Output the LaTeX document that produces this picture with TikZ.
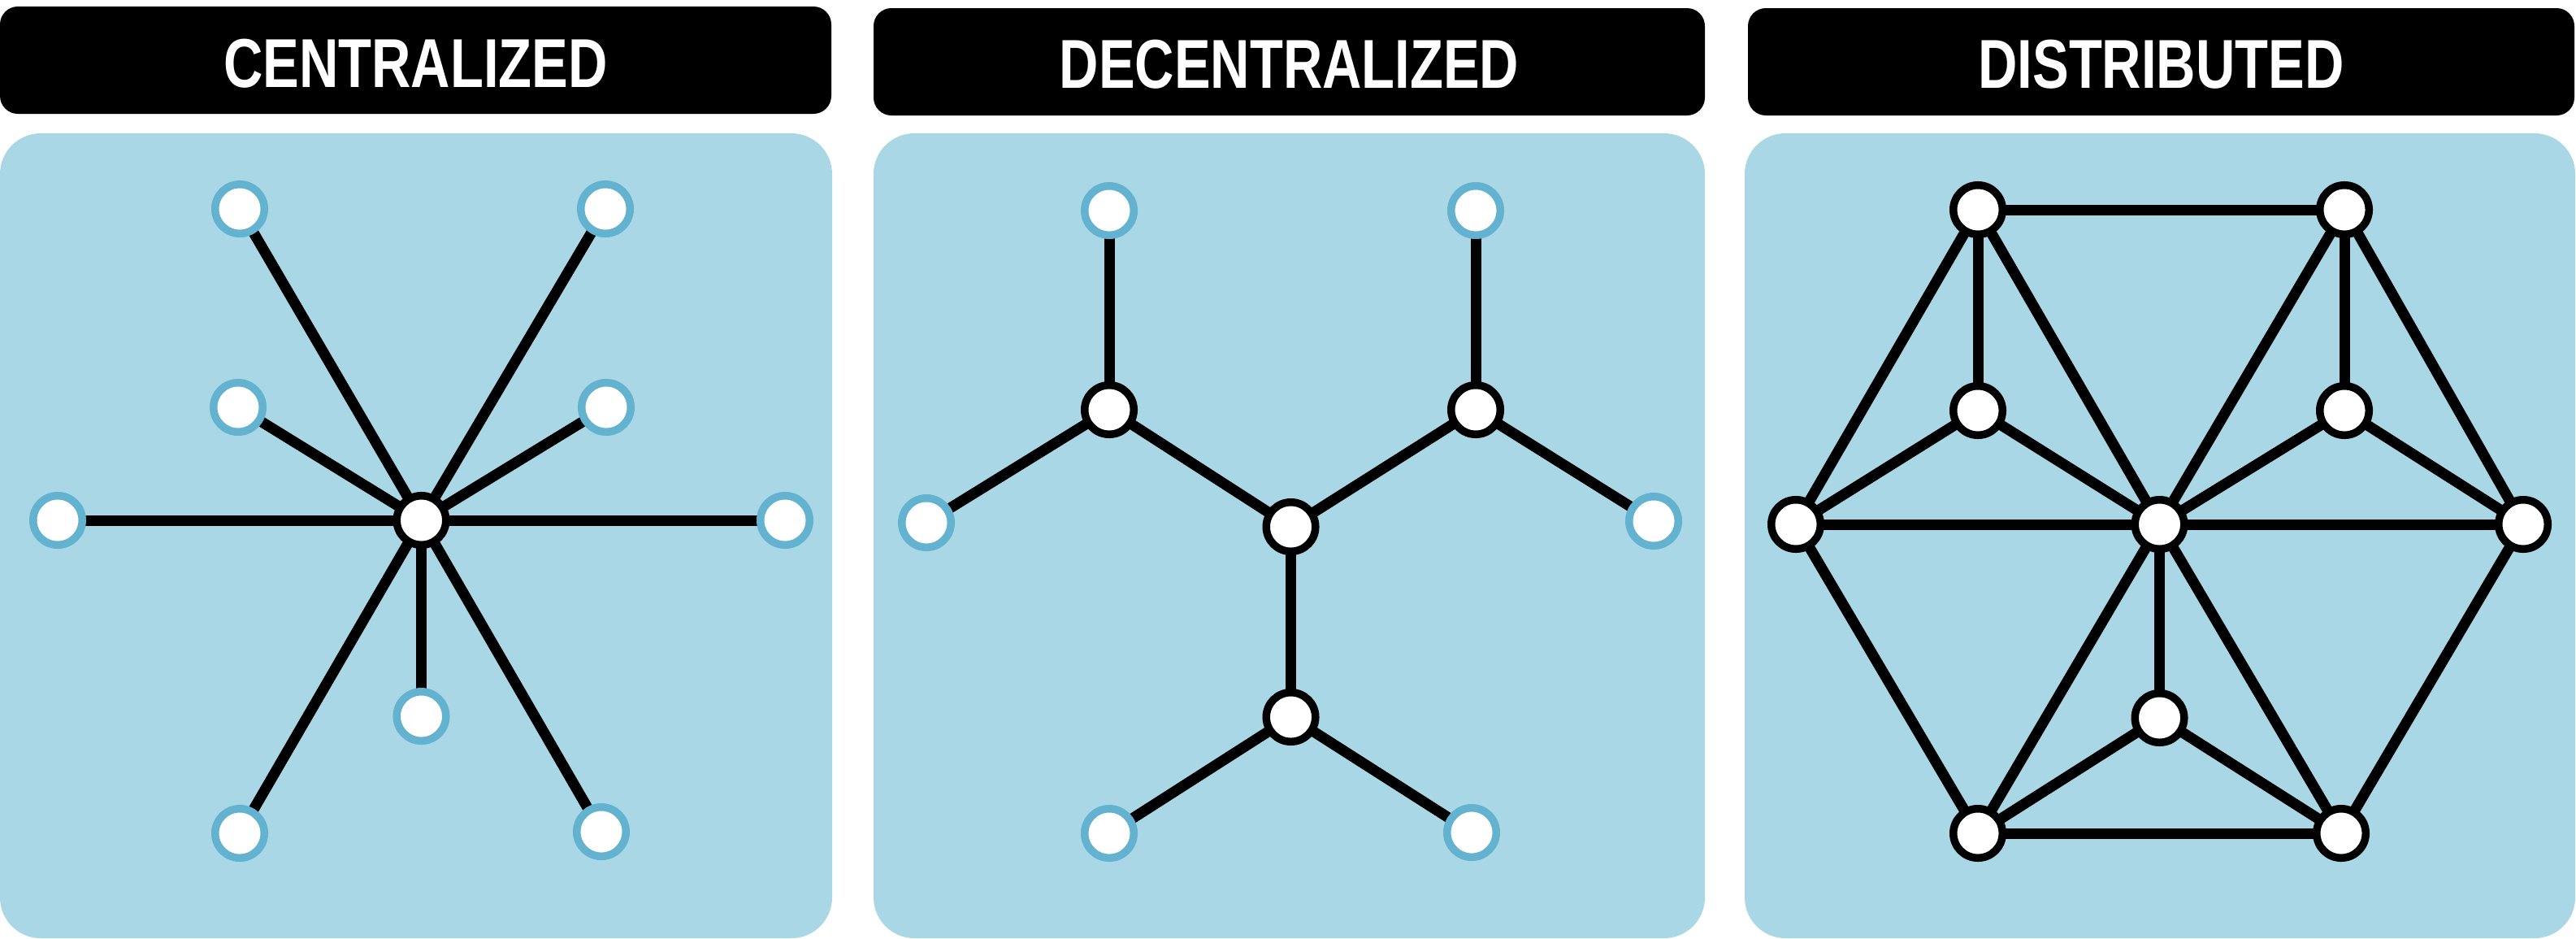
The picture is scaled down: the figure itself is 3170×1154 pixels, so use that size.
\documentclass[tikz,border=0pt]{standalone}
\usepackage{fontspec}
\usepackage{graphicx}
\newfontfamily\hdrfont{Liberation Sans}
\definecolor{panelblue}{HTML}{AAD7E5}
\definecolor{ringblue}{HTML}{62B2D0}
\pgfdeclarelayer{bglayer}
\pgfdeclarelayer{edgelayer}
\pgfsetlayers{bglayer,edgelayer,main}
\tikzset{
  leaf/.style={circle, draw=ringblue, fill=white, line width=0.095cm, minimum size=0.605cm, inner sep=0pt},
  hub/.style={leaf, draw=black},
  link/.style={line width=0.13cm, draw=black},
  hdrbox/.style={fill=black, rounded corners=0.22cm},
  panel/.style={fill=panelblue, rounded corners=0.5cm},
  hdrtext/.style={text=white, anchor=base, inner sep=0pt, font=\hdrfont\bfseries\fontsize{24.2pt}{29pt}\selectfont}
}
\begin{document}
\begin{tikzpicture}[x=0.01cm,y=-0.01cm]
\useasboundingbox (0,0) rectangle (3170,1154);
% headers and panels
\begin{pgfonlayer}{bglayer}
\fill[hdrbox] (0,8) rectangle (1023,140);
\fill[hdrbox] (1075,10) rectangle (2098,142);
\fill[hdrbox] (2151,10) rectangle (3168,142);
\fill[panel] (0,164) rectangle (1024,1154);
\fill[panel] (1075,164) rectangle (2098,1154);
\fill[panel] (2147,164) rectangle (3169,1154);
\end{pgfonlayer}
\node[hdrtext] (t1) at (511.5,107) {\scalebox{0.787}[1]{CENTRALIZED}};
\node[hdrtext] (t2) at (1586.5,108) {\scalebox{0.787}[1]{DECENTRALIZED}};
\node[hdrtext] (t3) at (2659.5,108) {\scalebox{0.787}[1]{DISTRIBUTED}};
% centralized
\node[hub] (ch) at (518.5,640) {};
\node[leaf] (c1) at (295,257) {};
\node[leaf] (c2) at (745,257) {};
\node[leaf] (c3) at (293,501) {};
\node[leaf] (c4) at (746,501) {};
\node[leaf] (c5) at (71,640) {};
\node[leaf] (c6) at (966,640) {};
\node[leaf] (c7) at (518.5,881) {};
\node[leaf] (c8) at (295,1025) {};
\node[leaf] (c9) at (740,1023) {};
% decentralized
\node[leaf] (dtl) at (1365,259) {};
\node[leaf] (dtr) at (1816,259) {};
\node[hub] (dml) at (1365,504) {};
\node[hub] (dmr) at (1816,504) {};
\node[hub] (dc) at (1588.5,648) {};
\node[leaf] (dl) at (1140,643) {};
\node[leaf] (dr) at (2035,641) {};
\node[hub] (dbh) at (1588.5,882) {};
\node[leaf] (dbl) at (1365,1025) {};
\node[leaf] (dbr) at (1811,1024) {};
% distributed
\node[hub] (xtl) at (2434,258) {};
\node[hub] (xtr) at (2885,258) {};
\node[hub] (xml) at (2434,505) {};
\node[hub] (xmr) at (2885,505) {};
\node[hub] (xl) at (2210,645) {};
\node[hub] (xc) at (2657.5,645) {};
\node[hub] (xr) at (3105,645) {};
\node[hub] (xbm) at (2657.5,883) {};
\node[hub] (xbl) at (2434,1025) {};
\node[hub] (xbr) at (2881,1025) {};
\begin{pgfonlayer}{edgelayer}
\foreach \n in {c1,c2,c3,c4,c5,c6,c7,c8,c9}
  \draw[link] (ch.center) -- (\n.center);
\draw[link] (dtl.center) -- (dml.center);
\draw[link] (dml.center) -- (dl.center);
\draw[link] (dml.center) -- (dc.center);
\draw[link] (dtr.center) -- (dmr.center);
\draw[link] (dmr.center) -- (dr.center);
\draw[link] (dmr.center) -- (dc.center);
\draw[link] (dc.center) -- (dbh.center);
\draw[link] (dbh.center) -- (dbl.center);
\draw[link] (dbh.center) -- (dbr.center);
\draw[link] (xtl.center) -- (xtr.center);
\draw[link] (xtl.center) -- (xml.center);
\draw[link] (xtl.center) -- (xl.center);
\draw[link] (xtl.center) -- (xc.center);
\draw[link] (xtr.center) -- (xmr.center);
\draw[link] (xtr.center) -- (xc.center);
\draw[link] (xtr.center) -- (xr.center);
\draw[link] (xml.center) -- (xl.center);
\draw[link] (xml.center) -- (xc.center);
\draw[link] (xmr.center) -- (xc.center);
\draw[link] (xmr.center) -- (xr.center);
\draw[link] (xl.center) -- (xc.center);
\draw[link] (xc.center) -- (xr.center);
\draw[link] (xl.center) -- (xbl.center);
\draw[link] (xc.center) -- (xbl.center);
\draw[link] (xc.center) -- (xbm.center);
\draw[link] (xc.center) -- (xbr.center);
\draw[link] (xbm.center) -- (xbl.center);
\draw[link] (xbm.center) -- (xbr.center);
\draw[link] (xbl.center) -- (xbr.center);
\draw[link] (xr.center) -- (xbr.center);
\end{pgfonlayer}
\end{tikzpicture}
\end{document}
